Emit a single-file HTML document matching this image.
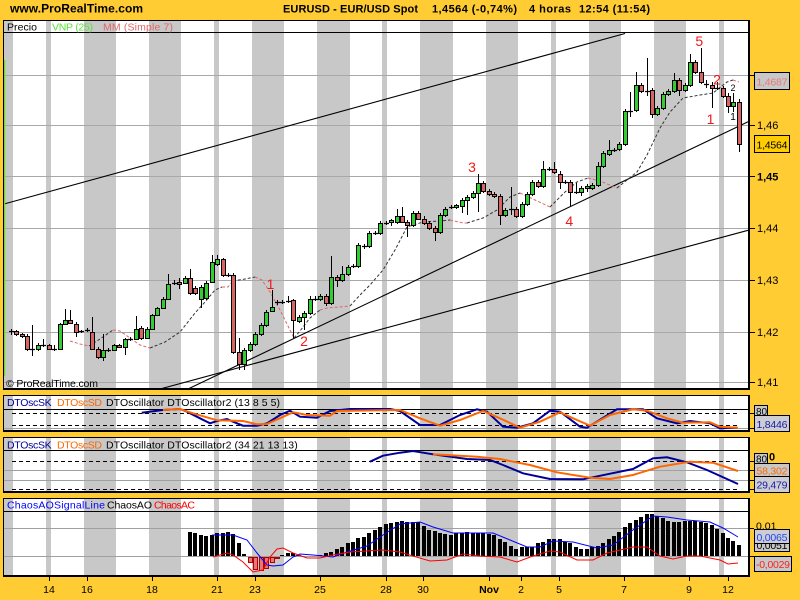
<!DOCTYPE html>
<html><head><meta charset="utf-8"><style>html,body{margin:0;padding:0;background:#FFCC33;}svg{display:block}</style></head><body>
<svg width="800" height="600" xmlns="http://www.w3.org/2000/svg" font-family="'Liberation Sans', Arial, sans-serif">
<rect width="800" height="600" fill="#FFCC33"/>
<rect x="3" y="20" width="747" height="557" fill="#fff"/>
<g fill="#C8C8C8">
<rect x="4" y="20" width="9" height="557"/><rect x="46" y="20" width="5" height="557"/><rect x="84" y="20" width="32" height="557"/><rect x="149" y="20" width="32" height="557"/><rect x="214" y="20" width="5" height="557"/><rect x="252" y="20" width="32" height="557"/><rect x="317" y="20" width="33" height="557"/><rect x="382" y="20" width="5" height="557"/><rect x="420" y="20" width="33" height="557"/><rect x="486" y="20" width="32" height="557"/><rect x="551" y="20" width="5" height="557"/><rect x="589" y="20" width="32" height="557"/><rect x="654" y="20" width="32" height="557"/><rect x="719" y="20" width="5" height="557"/>
</g>
<g fill="#FFCC33"><rect x="0" y="390" width="752" height="5"/><rect x="0" y="432" width="752" height="5"/><rect x="0" y="493" width="752" height="5"/><rect x="0" y="577" width="752" height="23"/></g>

<!-- header -->
<text x="10" y="12.5" font-size="12" font-weight="bold" textLength="133">www.ProRealTime.com</text>
<text x="283" y="12.5" font-size="11" font-weight="bold" textLength="135">EURUSD - EUR/USD Spot</text>
<text x="432" y="12.5" font-size="11" font-weight="bold" textLength="85">1,4564 (-0,74%)</text>
<text x="529" y="12.5" font-size="11" font-weight="bold" textLength="42">4 horas</text>
<text x="579" y="12.5" font-size="11" font-weight="bold" textLength="71">12:54 (11:54)</text>

<!-- main grid -->
<g stroke="#A8A8A8" stroke-width="1">
<path d="M4 75.5H748M4 125.5H748M4 176.5H748M4 228.5H748M4 280.5H748M4 332.5H748M4 382.5H748"/>
</g>
<!-- trend lines -->
<g stroke="#000" stroke-width="1.1" fill="none">
<path d="M4 204L625 33.5"/>
<path d="M160 389L748 230.3"/>
<path d="M188 389L748 121.8"/>
</g>
<!-- MA dashed -->
<g fill="none" stroke-width="1" stroke-dasharray="3,2">
<g stroke="#E06666">
<polyline points="70,341 80,344 89,346"/>
<polyline points="113,330 120,331 130,338 140,345 150,348"/>
<polyline points="222,287 228,287 233,281"/>
<polyline points="255,277 262,280 270,292 280,310 290,330 294,338"/>
<polyline points="320,310 327,308 340,307 350,306"/>
<polyline points="450,220 463,223 467,223"/>
<polyline points="520,193 535,200 550,207"/>
<polyline points="588,178 600,181 617,188"/>
<polyline points="733,80 739,82"/>
</g>
<g stroke="#333">
<polyline points="89,346 100,339 113,330"/>
<polyline points="150,348 165,342 180,332 195,313 205,302 215,290 222,287"/>
<polyline points="233,281 245,279 255,277"/>
<polyline points="294,338 300,331 310,318 320,310"/>
<polyline points="350,306 360,295 370,285 383,270 395,250 407,227 423,222 440,221 450,220"/>
<polyline points="467,223 483,218 497,210 510,197 520,193"/>
<polyline points="550,207 565,192 577,182 588,178"/>
<polyline points="617,188 637,172 647,155 660,128 670,112 683,98 700,95 713,93 727,82 733,80"/>
</g>
</g>
<!-- candles -->
<path stroke="#000" stroke-width="1" fill="none" d="M11.5 329V335M16.5 330V336M22.5 333V338M27.5 334V351M32.5 325V356M38.5 343V351M43.5 339V347M49.5 344V350M54.5 345V351M60.5 323V350M65.5 309V325M70.5 310V324M76.5 322V337M81.5 330V333M87.5 328V332M92.5 317V350M98.5 347V359M103.5 334V361M108.5 348V352M114.5 344V351M119.5 344V348M125.5 338V355M130.5 337V341M136.5 316V340M141.5 326V340M147.5 327V339M152.5 314V330M157.5 307V316M163.5 297V309M168.5 274V300M174.5 280V285M179.5 278V289M185.5 276V284M190.5 269V295M195.5 286V295M201.5 285V308M206.5 281V300M212.5 255V283M217.5 255V266M223.5 258V277M228.5 273V277M233.5 273V354M239.5 338V370M244.5 348V370M250.5 342V352M255.5 332V346M261.5 323V336M266.5 310V327M272.5 290V312M277.5 300V305M282.5 300V304M288.5 296V303M293.5 299V338M299.5 315V323M304.5 311V330M310.5 296V315M315.5 296V301M320.5 294V301M326.5 294V306M331.5 256V305M337.5 275V287M342.5 266V282M348.5 265V276M353.5 264V268M358.5 243V268M364.5 244V249M369.5 231V248M375.5 231V235M380.5 221V235M386.5 221V225M391.5 219V226M397.5 209V224M402.5 207V223M407.5 220V237M413.5 211V227M418.5 211V220M424.5 216V225M429.5 221V230M435.5 226V241M440.5 213V234M445.5 207V217M451.5 205V209M456.5 204V209M462.5 198V213M467.5 195V215M473.5 191V199M478.5 174V212M483.5 181V193M489.5 189V196M494.5 192V198M500.5 194V225M505.5 208V217M511.5 187V215M516.5 207V218M522.5 202V218M527.5 192V206M532.5 180V196M538.5 180V188M543.5 161V188M549.5 167V171M554.5 162V174M560.5 171V189M565.5 180V184M570.5 180V206M576.5 183V194M581.5 186V196M587.5 184V192M592.5 183V190M598.5 162V187M603.5 151V168M609.5 140V156M614.5 148V152M619.5 142V151M625.5 109V146M630.5 92V117M636.5 72V112M641.5 83V93M647.5 58V96M652.5 88V118M657.5 106V116M663.5 92V110M668.5 89V96M674.5 73V93M679.5 78V96M685.5 83V92M690.5 54V87M695.5 60V74M701.5 48V84M706.5 80V88M712.5 82V108M717.5 82V90M723.5 86V98M728.5 93V113M733.5 93V112M739.5 99V152"/>
<path stroke="#000" stroke-width="1.3" fill="none" d="M9 331.5h5M30 349.5h5M41 345.5h5M52 349.5h5M79 331.5h5M85 330.5h5M106 350.5h5M128 339.5h5M172 283.5h5M226 275.5h5M275 302.5h5M280 302.5h5M286 301.5h5M313 299.5h5M351 266.5h5M362 246.5h5M373 233.5h5M384 223.5h5M449 207.5h5M509 209.5h5M547 169.5h5M563 182.5h5M574 192.5h5M612 150.5h5M628 111.5h5M645 91.5h5M704 84.5h5M715 88.5h5"/>
<path stroke="#000" stroke-width="1" fill="#33CC33" d="M36.5 345.5h4v4h-4zM58.5 324.5h4v25h-4zM63.5 320.5h4v4h-4zM101.5 350.5h4v7h-4zM112.5 345.5h4v5h-4zM123.5 339.5h4v8h-4zM134.5 329.5h4v10h-4zM145.5 329.5h4v9h-4zM150.5 315.5h4v14h-4zM155.5 308.5h4v7h-4zM161.5 299.5h4v9h-4zM166.5 284.5h4v15h-4zM183.5 278.5h4v5h-4zM199.5 287.5h4v12h-4zM204.5 283.5h4v15h-4zM210.5 262.5h4v20h-4zM215.5 259.5h4v5h-4zM242.5 350.5h4v14h-4zM248.5 344.5h4v6h-4zM253.5 334.5h4v10h-4zM259.5 325.5h4v9h-4zM264.5 312.5h4v13h-4zM270.5 307.5h4v4h-4zM297.5 317.5h4v4h-4zM302.5 313.5h4v4h-4zM308.5 299.5h4v14h-4zM318.5 296.5h4v3h-4zM329.5 277.5h4v26h-4zM340.5 274.5h4v6h-4zM346.5 267.5h4v7h-4zM356.5 245.5h4v21h-4zM367.5 233.5h4v13h-4zM378.5 223.5h4v10h-4zM389.5 220.5h4v2h-4zM395.5 216.5h4v6h-4zM411.5 213.5h4v12h-4zM438.5 215.5h4v17h-4zM443.5 209.5h4v6h-4zM454.5 205.5h4v2h-4zM460.5 200.5h4v6h-4zM465.5 197.5h4v3h-4zM471.5 193.5h4v4h-4zM476.5 183.5h4v10h-4zM503.5 210.5h4v5h-4zM520.5 204.5h4v12h-4zM525.5 194.5h4v10h-4zM530.5 182.5h4v12h-4zM541.5 169.5h4v17h-4zM579.5 188.5h4v4h-4zM585.5 186.5h4v2h-4zM590.5 185.5h4v3h-4zM596.5 166.5h4v19h-4zM601.5 153.5h4v13h-4zM607.5 150.5h4v4h-4zM617.5 144.5h4v5h-4zM623.5 111.5h4v33h-4zM634.5 85.5h4v25h-4zM655.5 108.5h4v6h-4zM661.5 94.5h4v14h-4zM666.5 91.5h4v3h-4zM672.5 80.5h4v11h-4zM683.5 85.5h4v5h-4zM688.5 62.5h4v23h-4zM731.5 102.5h4v4h-4z"/>
<path stroke="#000" stroke-width="1" fill="#D96464" d="M14.5 331.5h4v3h-4zM20.5 334.5h4v2h-4zM25.5 336.5h4v13h-4zM47.5 345.5h4v4h-4zM68.5 320.5h4v3h-4zM74.5 324.5h4v8h-4zM90.5 332.5h4v17h-4zM96.5 349.5h4v8h-4zM117.5 345.5h4v2h-4zM139.5 328.5h4v10h-4zM177.5 282.5h4v2h-4zM188.5 278.5h4v15h-4zM193.5 288.5h4v5h-4zM221.5 259.5h4v16h-4zM231.5 275.5h4v77h-4zM237.5 352.5h4v12h-4zM291.5 300.5h4v20h-4zM324.5 296.5h4v7h-4zM335.5 277.5h4v3h-4zM400.5 216.5h4v6h-4zM405.5 222.5h4v3h-4zM416.5 213.5h4v6h-4zM422.5 219.5h4v4h-4zM427.5 223.5h4v5h-4zM433.5 228.5h4v4h-4zM481.5 183.5h4v8h-4zM487.5 191.5h4v3h-4zM492.5 194.5h4v2h-4zM498.5 196.5h4v19h-4zM514.5 209.5h4v7h-4zM536.5 182.5h4v4h-4zM552.5 169.5h4v3h-4zM558.5 174.5h4v8h-4zM568.5 182.5h4v10h-4zM639.5 85.5h4v6h-4zM650.5 90.5h4v24h-4zM677.5 80.5h4v10h-4zM693.5 62.5h4v10h-4zM699.5 72.5h4v10h-4zM710.5 85.5h4v3h-4zM721.5 88.5h4v8h-4zM726.5 96.5h4v10h-4zM737.5 102.5h4v42h-4z"/>
<!-- wave labels -->
<g fill="#F01818" font-size="14" text-anchor="middle">
<text x="472" y="172">3</text><text x="270.5" y="289">1</text><text x="304" y="346">2</text><text x="569.3" y="226">4</text><text x="699.3" y="46">5</text><text x="717" y="84.5">2</text><text x="710.5" y="124">1</text>
</g>
<text x="733" y="91" font-size="9" text-anchor="middle">2</text>
<text x="733" y="120" font-size="10" text-anchor="middle">1</text>
<!-- VNP line -->
<path d="M4.5 60V376" stroke="#66E020" stroke-width="1.5"/>
<!-- legend main -->
<path d="M3 32.5H749" stroke="#000"/>
<text x="7" y="30.5" font-size="10.5" textLength="30">Precio</text>
<text x="52" y="30.5" font-size="10.5" fill="#5BE03A" textLength="41">VNP (25)</text>
<text x="103" y="30.5" font-size="10.5" fill="#E06666" textLength="70">MM (Simple 7)</text>
<text x="6" y="387" font-size="10.5" textLength="92">© ProRealTime.com</text>
<!-- main border -->
<rect x="3.5" y="20.5" width="746" height="369" fill="none" stroke="#000"/>
<path d="M748.5 20V390M3 388.5H750" stroke="#000"/>
<!-- main axis -->
<path d="M750 75.5h5M750 125.5h5M750 176.5h5M750 228.5h5M750 280.5h5M750 332.5h5M750 382.5h5" stroke="#000"/>
<g font-size="11">
<text x="757" y="129">1,46</text>
<text x="757" y="180.5" font-weight="bold">1,45</text>
<text x="757" y="232">1,44</text>
<text x="757" y="284">1,43</text>
<text x="757" y="336">1,42</text>
<text x="757" y="386">1,41</text>
</g>
<rect x="754.5" y="72.5" width="35" height="17" fill="#C8C8C8" stroke="#000"/>
<text x="756.5" y="85.5" font-size="10.5" fill="#E87878" textLength="31">1,4687</text>
<rect x="754.5" y="135.5" width="35" height="17" fill="#FFCC00" stroke="#000"/>
<text x="756.5" y="148.5" font-size="10.5" textLength="31">1,4564</text>

<!-- panel 2 -->
<path d="M3 409.5H749" stroke="#000"/>
<path d="M12 413.5H740M12 425.5H740" stroke="#000" stroke-dasharray="4,3"/>
<path d="M4 428.5H748" stroke="#A0A0A0"/>
<text x="7" y="406" font-size="10.5" fill="#0000A0" textLength="44.7">DTOscSK</text>
<text x="57" y="406" font-size="10.5" fill="#FF6600" textLength="45">DTOscSD</text>
<text x="106" y="406" font-size="10.5" textLength="174">DTOscillator DTOscillator2 (13 8 5 5)</text>
<polyline fill="none" stroke="#000099" stroke-width="2" points="141.7,412.7 163,410 180,409 187,411.7 200,418.3 210,423.3 217,421 227,419 233,421.7 243,425.7 257,425.7 267,423.3 280,415 290,410.7 300,416.7 317,417.7 330,411 350,409 390,409 400,411 420,425 440,425 460,415 477,409.3 487,411.7 503,426.7 517,427.7 533,423.3 550,410.7 560,411.7 580,426.7 587,427.7 617,409.3 643,409.3 657,418.3 677,423.3 690,421 710,423.3 720,428.3 737,427.7"/>
<polyline fill="none" stroke="#FF6600" stroke-width="2" points="163,410 180,409 193,413.3 217,420.3 243,421 257,424.3 267,424 293,412.3 307,415 330,415.7 337,411 400,410 420,418.3 440,425.7 460,420 483,411 500,418.3 520,427.7 540,421.7 560,412.3 577,420 590,425.7 610,415 633,409.3 647,410.7 667,418.3 683,422.7 710,422.3 720,426.7 738,427.7"/>
<rect x="3.5" y="395.5" width="746" height="36" fill="none" stroke="#000"/>
<path d="M748.5 395V432M3 430.5H750" stroke="#000"/>
<path d="M750 413.5h4M750 428.5h4" stroke="#000"/>
<rect x="754.5" y="405.5" width="13" height="10" fill="#C8C8C8" stroke="#000"/>
<text x="756" y="415" font-size="10">80</text>
<rect x="754.5" y="415.5" width="35" height="16" fill="#CDCDD6" stroke="#000"/>
<text x="756.5" y="428" font-size="10.5" fill="#1A1AA0" textLength="31">1,8446</text>

<!-- panel 3 -->
<path d="M3 450.5H749" stroke="#000"/>
<path d="M12 461.5H740M12 489.5H740" stroke="#000" stroke-dasharray="4,3"/>
<path d="M4 470.5H748M4 480.5H748" stroke="#A0A0A0"/>
<text x="7" y="448.3" font-size="10.5" fill="#0000A0" textLength="44.7">DTOscSK</text>
<text x="57" y="448.3" font-size="10.5" fill="#FF6600" textLength="45">DTOscSD</text>
<text x="106" y="448.3" font-size="10.5" textLength="191.7">DTOscillator DTOscillator2 (34 21 13 13)</text>
<polyline fill="none" stroke="#000099" stroke-width="2" points="370,461.7 383,455.7 400,452.7 413,451 433,454.3 467,459 490,460 503,465 523,473.3 550,479 583,479.3 607,474.3 633,469 653,458.3 667,457.3 687,462.3 707,470 738,484"/>
<polyline fill="none" stroke="#FF6600" stroke-width="2" points="433,454.3 477,456.7 500,459 530,465 557,472.3 590,477.7 610,479 633,475 660,466.7 690,461.7 713,462.7 738,471"/>
<rect x="3.5" y="437.5" width="746" height="55" fill="none" stroke="#000"/>
<path d="M748.5 437V493M3 491.5H750" stroke="#000"/>
<path d="M750 461.5h4M750 470.5h4M750 480.5h4M750 489.5h4" stroke="#000"/>
<rect x="754.5" y="453.5" width="13" height="10" fill="#C8C8C8" stroke="#000"/>
<text x="756" y="462.5" font-size="10">80</text>
<text x="769" y="460.5" font-size="11" font-weight="bold">0</text>
<rect x="754.5" y="463.5" width="35" height="13" fill="#C8C8C8" stroke="#000"/>
<text x="756.5" y="474.5" font-size="10.5" fill="#FF6600" textLength="31">58,302</text>
<rect x="754.5" y="476.5" width="35" height="16" fill="#CDCDD6" stroke="#000"/>
<text x="756.5" y="488.5" font-size="10.5" fill="#1A1AA0" textLength="31">29,479</text>

<!-- panel 4 -->
<path d="M3 511.5H749" stroke="#000"/>
<path d="M4 528.5H748M4 556.5H748" stroke="#A0A0A0"/>
<text x="7" y="508.5" font-size="10.5" fill="#0000FF" textLength="98">ChaosAOSignalLine</text>
<text x="107" y="508.5" font-size="10.5" textLength="45">ChaosAO</text>
<text x="154" y="508.5" font-size="10.5" fill="#FF0000" textLength="41">ChaosAC</text>
<path fill="#000" d="M188 532h4V556h-4zM193 533h4V556h-4zM199 535h4V556h-4zM204 536h4V556h-4zM210 535h4V556h-4zM215 533h4V556h-4zM221 533h4V556h-4zM226 532h4V556h-4zM231 534h4V556h-4zM237 543h4V556h-4zM242 554h4V556h-4zM280 555h4V556h-4zM286 553h4V556h-4zM291 553h4V556h-4zM297 555h4V556h-4zM318 555h4V556h-4zM324 553h4V556h-4zM329 552h4V556h-4zM335 549h4V556h-4zM340 547h4V556h-4zM346 543h4V556h-4zM351 542h4V556h-4zM356 538h4V556h-4zM362 537h4V556h-4zM367 533h4V556h-4zM373 530h4V556h-4zM378 527h4V556h-4zM384 524h4V556h-4zM389 523h4V556h-4zM395 522h4V556h-4zM400 521h4V556h-4zM405 522h4V556h-4zM411 522h4V556h-4zM416 522h4V556h-4zM422 526h4V556h-4zM427 530h4V556h-4zM433 531h4V556h-4zM438 533h4V556h-4zM443 534h4V556h-4zM449 535h4V556h-4zM454 533h4V556h-4zM460 533h4V556h-4zM465 532h4V556h-4zM471 533h4V556h-4zM476 533h4V556h-4zM481 533h4V556h-4zM487 534h4V556h-4zM492 535h4V556h-4zM498 539h4V556h-4zM503 542h4V556h-4zM509 546h4V556h-4zM514 549h4V556h-4zM520 547h4V556h-4zM525 547h4V556h-4zM530 547h4V556h-4zM536 543h4V556h-4zM541 542h4V556h-4zM547 539h4V556h-4zM552 539h4V556h-4zM558 539h4V556h-4zM563 542h4V556h-4zM568 543h4V556h-4zM574 547h4V556h-4zM579 549h4V556h-4zM585 549h4V556h-4zM590 547h4V556h-4zM596 546h4V556h-4zM601 543h4V556h-4zM607 539h4V556h-4zM612 536h4V556h-4zM617 532h4V556h-4zM623 527h4V556h-4zM628 523h4V556h-4zM634 520h4V556h-4zM639 517h4V556h-4zM645 514h4V556h-4zM650 514h4V556h-4zM655 516h4V556h-4zM661 518h4V556h-4zM666 521h4V556h-4zM672 522h4V556h-4zM677 522h4V556h-4zM683 521h4V556h-4zM688 521h4V556h-4zM693 521h4V556h-4zM699 522h4V556h-4zM704 523h4V556h-4zM710 525h4V556h-4zM715 529h4V556h-4zM721 533h4V556h-4zM726 538h4V556h-4zM731 541h4V556h-4zM737 545h4V556h-4z"/>
<path fill="#E87878" stroke="#B00000" stroke-width="1" d="M248.5 557.5h4V562.5h-4zM253.5 557.5h4V569.5h-4zM259.5 557.5h4V570.5h-4zM264.5 557.5h4V568.5h-4zM270.5 557.5h4V562.5h-4zM275.5 557.5h4V558.5h-4z"/>
<polyline fill="none" stroke="#0000FF" stroke-width="1" points="212,535 233,535 247,540 257,553 267,565 273,566 283,565 293,557 300,554 313,555 333,557 347,552 367,546 383,535 400,524 420,522 433,527 453,533 493,533 510,540 527,547 540,547 553,541 573,542 597,548 613,545 633,530 653,516 667,517 687,520 710,522 723,528 738,537"/>
<polyline fill="none" stroke="#FF0000" stroke-width="1" points="213,557 227,553 233,555 243,562 253,572 263,570 270,557 277,549 283,548 293,553 307,558 320,558 333,555 350,552 383,550 400,552 413,556 430,561 447,560 463,554 480,556 500,557 517,562 533,556 550,551 560,552 577,560 593,560 607,553 633,547 647,547 660,556 673,559 687,556 700,556 720,560 728,564 738,563"/>
<rect x="3.5" y="498.5" width="746" height="78" fill="none" stroke="#000"/>
<path d="M748.5 498V577M3 575.5H750" stroke="#000"/>
<path d="M750 528.5h4M750 556.5h4" stroke="#000"/>
<text x="756" y="529.5" font-size="10.5">0,01</text>
<rect x="754.5" y="537.5" width="35" height="14" fill="#C8C8C8" stroke="#000"/>
<text x="756.5" y="549" font-size="10.5" textLength="31">0,0051</text>
<rect x="754.5" y="529.5" width="35" height="14" fill="#CDCDD6" stroke="#000"/>
<text x="756.5" y="541" font-size="10.5" fill="#2244EE" textLength="31">0,0065</text>
<rect x="754.5" y="556.5" width="37" height="15" fill="#C8C8C8" stroke="#000"/>
<text x="756" y="568" font-size="10.5" fill="#FF2020" textLength="34">-0,0029</text>

<!-- x axis -->
<path stroke="#000" d="M49.5 577v4M87.5 577v4M152.5 577v4M217.5 577v4M255.5 577v4M320.5 577v4M386.5 577v4M423.5 577v4M489.5 577v4M521.5 577v4M559.5 577v4M624.5 577v4M689.5 577v4M728.5 577v4"/>
<g font-size="10.5" text-anchor="middle">
<text x="49" y="593">14</text><text x="87" y="593">16</text><text x="152" y="593">18</text><text x="217" y="593">21</text><text x="255" y="593">23</text><text x="320" y="593">25</text><text x="386" y="593">28</text><text x="423" y="593">30</text><text x="489" y="593" font-weight="bold">Nov</text><text x="521" y="593">2</text><text x="559" y="593">5</text><text x="624" y="593">7</text><text x="689" y="593">9</text><text x="728" y="593">12</text>
</g>
</svg>
</body></html>
